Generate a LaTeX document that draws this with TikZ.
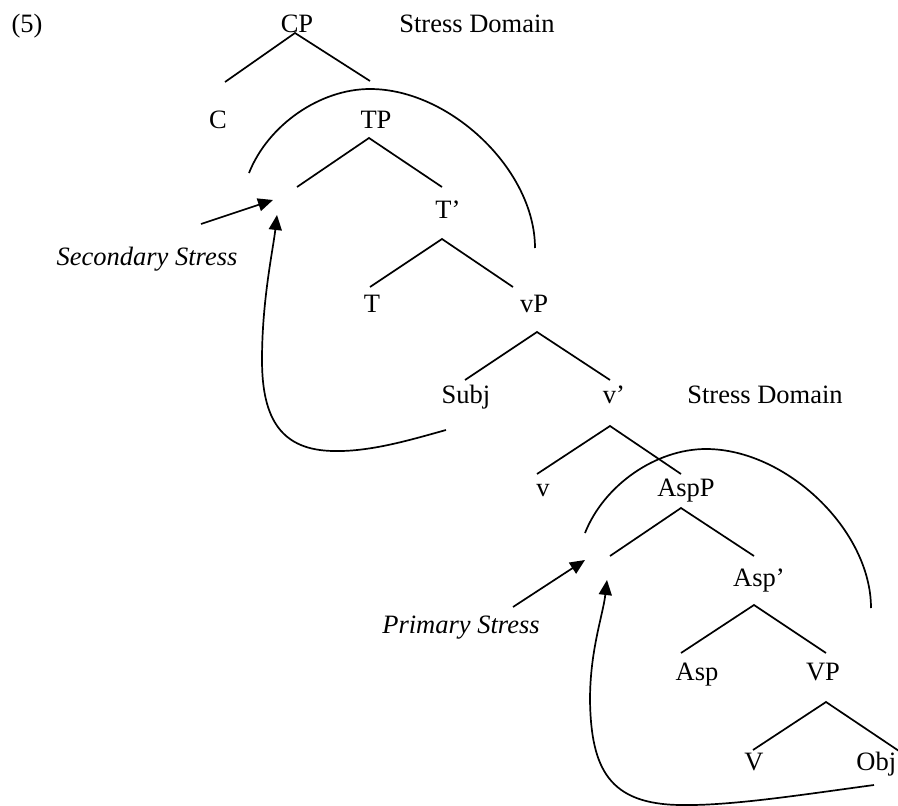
\documentclass[tikz,border=0pt]{standalone}
\usepackage{fontspec}
\setmainfont{Liberation Serif}
\usetikzlibrary{arrows.meta}
\begin{document}
\begin{tikzpicture}[x=1pt,y=-1pt, line width=1.7pt,
  lbl/.style={anchor=base, inner sep=0pt, font=\fontsize{26.5}{30}\selectfont},
  ital/.style={lbl, font=\fontsize{26.5}{30}\selectfont\itshape},
  branch/.style={line join=miter},
  arr/.style={-{Triangle[length=15pt,width=13pt]}}]
\useasboundingbox (0,0) rectangle (898,806);

% labels
\node[lbl] (ex) at (27,32) {(5)};
\node[lbl] (CP) at (297,32) {CP};
\node[lbl] (SD1) at (477,32) {Stress Domain};
\node[lbl] (C) at (218,128) {C};
\node[lbl] (TP) at (376,128) {TP};
\node[lbl] (Tbar) at (448,218) {T’};
\node[lbl] (T) at (372,312) {T};
\node[lbl] (vP) at (534,312) {vP};
\node[lbl] (Subj) at (466,403) {Subj};
\node[lbl] (vbar) at (614,403) {v’};
\node[lbl] (SD2) at (765,403) {Stress Domain};
\node[ital] (sec) at (147,265) {Secondary Stress};
\node[lbl] (v) at (543,496) {v};
\node[lbl] (AspP) at (686,496) {AspP};
\node[lbl] (Aspbar) at (759,586) {Asp’};
\node[lbl] (Asp) at (697,680) {Asp};
\node[lbl] (VP) at (823,680) {VP};
\node[lbl] (V) at (754,770) {V};
\node[lbl, anchor=base east] (Obj) at (897,770) {Obj};
\node[ital] (prim) at (461,633) {Primary Stress};

% branch coordinates
\coordinate (CPa) at (295,33);  \coordinate (CPl) at (225,82);  \coordinate (CPr) at (370,81);
\coordinate (TPa) at (369,138); \coordinate (TPl) at (297,187); \coordinate (TPr) at (442,187);
\coordinate (Tba) at (442,239); \coordinate (Tbl) at (370,287); \coordinate (Tbr) at (513,287);
\coordinate (vPa) at (537,332); \coordinate (vPl) at (465,380); \coordinate (vPr) at (610,380);
\coordinate (vba) at (610,426); \coordinate (vbl) at (537,474); \coordinate (vbr) at (681,474);
\coordinate (APa) at (681,508); \coordinate (APl) at (610,556); \coordinate (APr) at (754,556);
\coordinate (Aba) at (754,605); \coordinate (Abl) at (681,653); \coordinate (Abr) at (826,653);
\coordinate (VPa) at (826,702); \coordinate (VPl) at (753,750); \coordinate (VPr) at (899,751);

\draw[branch] (CPl) -- (CPa) -- (CPr);
\draw[branch] (TPl) -- (TPa) -- (TPr);
\draw[branch] (Tbl) -- (Tba) -- (Tbr);
\draw[branch] (vPl) -- (vPa) -- (vPr);
\draw[branch] (vbl) -- (vba) -- (vbr);
\draw[branch] (APl) -- (APa) -- (APr);
\draw[branch] (Abl) -- (Aba) -- (Abr);
\draw[branch] (VPl) -- (VPa) -- (VPr);

% stress domain arcs
\coordinate (d1s) at (249,173); \coordinate (d1e) at (535,248);
\draw (d1s) .. controls (268,125) and (320,89) .. (370,89) .. controls (450,89) and (535,170) .. (d1e);
\coordinate (d2s) at (585,533); \coordinate (d2e) at (871,608);
\draw (d2s) .. controls (604,485) and (656,449) .. (706,449) .. controls (786,449) and (871,530) .. (d2e);

% stress arrows
\coordinate (s1from) at (201,224); \coordinate (s1to) at (273,200);
\draw[arr] (s1from) -- (s1to);
\coordinate (m1from) at (446,430); \coordinate (m1to) at (277,215);
\draw[arr] (m1from) .. controls (410,440) and (370,452) .. (333,451)
  .. controls (282,450) and (262,420) .. (262,360)
  .. controls (262,300) and (273,250) .. (m1to);

\coordinate (s2from) at (513,607); \coordinate (s2to) at (585,560);
\draw[arr] (s2from) -- (s2to);
\coordinate (m2from) at (874,785); \coordinate (m2to) at (607,580);
\draw[arr] (m2from) .. controls (800,795) and (730,806) .. (680,805)
  .. controls (610,804) and (591,770) .. (590,700)
  .. controls (590,650) and (603,615) .. (m2to);
\end{tikzpicture}
\end{document}
